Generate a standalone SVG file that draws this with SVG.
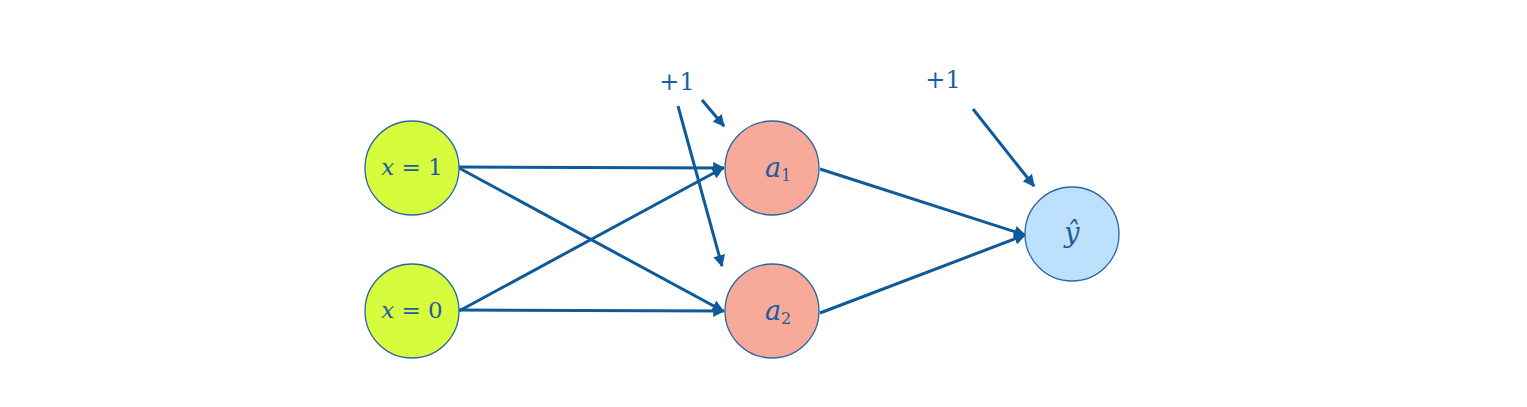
<svg xmlns="http://www.w3.org/2000/svg" width="1527" height="407" viewBox="0 0 1527 407">
<defs>
<style>
.node{stroke:#2a65a3;stroke-width:1.3}
.in{fill:#d7fc3e}
.hid{fill:#f7a99a}
.out{fill:#bde1fd}
.lbl{font-family:"DejaVu Serif","Liberation Serif",serif;font-style:italic;font-size:23px;fill:#1d5d9c}
.big{font-size:27px}
.num{font-family:"DejaVu Serif","Liberation Serif",serif;font-size:24px;fill:#1d5d9c}
.sub{font-family:"DejaVu Serif","Liberation Serif",serif;font-size:16px;fill:#1d5d9c}
.edge{stroke:#0e5a9a;stroke-width:3;fill:none;marker-end:url(#ah)}
</style>
<marker id="ah" viewBox="0 0 10 10" refX="9" refY="5" markerWidth="4" markerHeight="4" orient="auto" markerUnits="strokeWidth">
<path d="M0,0 L10,5 L0,10 z" fill="#0e5a9a"/>
</marker>
</defs>
<rect width="1527" height="407" fill="#ffffff"/>
<g id="connectors">
<line class="edge" x1="459" y1="167" x2="724" y2="168"/>
<line class="edge" x1="459" y1="168" x2="723" y2="311"/>
<line class="edge" x1="459" y1="311" x2="723" y2="168"/>
<line class="edge" x1="459" y1="310" x2="724" y2="311"/>
<line class="edge" x1="820" y1="169" x2="1025" y2="235"/>
<line class="edge" x1="820" y1="313" x2="1025" y2="235"/>
<line class="edge" x1="678" y1="106" x2="722" y2="266"/>
<line class="edge" x1="702" y1="100" x2="724" y2="126"/>
<line class="edge" x1="973" y1="109" x2="1034" y2="186"/>
</g>
<g id="bias1"><text class="num" x="677" y="90" text-anchor="middle">+1</text></g>
<g id="bias2"><text class="num" x="943" y="88" text-anchor="middle">+1</text></g>
<g id="x1">
<circle class="node in" cx="412" cy="168" r="47"/>
<text class="lbl" x="412" y="175" text-anchor="middle">x <tspan font-style="normal">= 1</tspan></text>
</g>
<g id="x0">
<circle class="node in" cx="412" cy="311" r="47"/>
<text class="lbl" x="412" y="318" text-anchor="middle">x <tspan font-style="normal">= 0</tspan></text>
</g>
<g id="a1">
<circle class="node hid" cx="772" cy="168" r="47"/>
<text class="lbl big" x="781" y="177" text-anchor="end">a</text>
<text class="sub" x="781" y="181">1</text>
</g>
<g id="a2">
<circle class="node hid" cx="772" cy="311" r="47"/>
<text class="lbl big" x="781" y="320" text-anchor="end">a</text>
<text class="sub" x="781" y="324">2</text>
</g>
<g id="yhat">
<circle class="node out" cx="1072" cy="234" r="47"/>
<text class="lbl big" x="1072" y="242" text-anchor="middle">ŷ</text>
</g>
</svg>
